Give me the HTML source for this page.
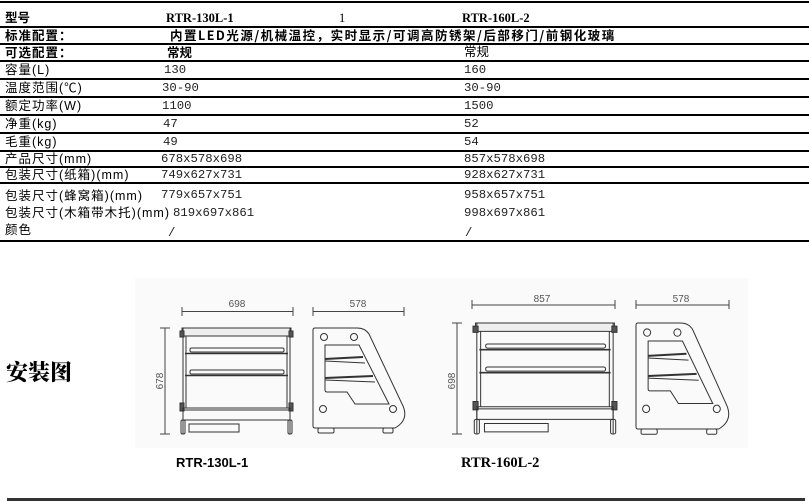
<!DOCTYPE html>
<html><head><meta charset="utf-8"><style>
body{margin:0;width:809px;height:501px;background:#fff;position:relative;overflow:hidden;font-family:"Liberation Sans","Noto Sans CJK SC",sans-serif;color:#000}
.hl{position:absolute;left:0;width:809px;height:1.5px;background:#000}
.t{position:absolute;white-space:nowrap;font-size:12.5px;line-height:14px}
.l{letter-spacing:1px}
.b{font-weight:bold;font-family:"Noto Sans CJK SC",sans-serif}
.m{font-family:"Liberation Mono",monospace;font-size:12.3px;color:#222}
.s{font-family:"Liberation Serif","Noto Serif CJK SC",serif;font-weight:bold;font-size:12.5px}
</style></head><body>
<div class="hl" style="top:1px"></div>
<div class="hl" style="top:26px"></div>
<div class="hl" style="top:43px"></div>
<div class="hl" style="top:60px"></div>
<div class="hl" style="top:78px"></div>
<div class="hl" style="top:96px"></div>
<div class="hl" style="top:114px"></div>
<div class="hl" style="top:132px"></div>
<div class="hl" style="top:150px"></div>
<div class="hl" style="top:166px"></div>
<div class="hl" style="top:182px"></div>
<div class="hl" style="top:240px"></div>

<div class="t b" style="left:5px;top:10px">型号</div>
<div class="t s" style="left:166px;top:11px">RTR-130L-1</div>
<div class="t s" style="left:339px;top:11px;font-weight:normal">1</div>
<div class="t s" style="left:462px;top:11px">RTR-160L-2</div>

<div class="t b l" style="left:5px;top:28px">标准配置：</div>
<div class="t b" style="left:170px;top:28px;letter-spacing:1.5px">内置LED光源/机械温控，实时显示/可调高防锈架/后部移门/前钢化玻璃</div>

<div class="t b l" style="left:5px;top:45px">可选配置：</div>
<div class="t b" style="left:167px;top:45px">常规</div>
<div class="t" style="left:464px;top:45px">常规</div>

<div class="t l" style="left:5px;top:63px">容量(L)</div><div class="t m" style="left:164px;top:63px">130</div><div class="t m" style="left:464px;top:63px">160</div>
<div class="t l" style="left:5px;top:81px">温度范围(℃)</div><div class="t m" style="left:162px;top:81px">30-90</div><div class="t m" style="left:464px;top:81px">30-90</div>
<div class="t l" style="left:5px;top:99px">额定功率(W)</div><div class="t m" style="left:162px;top:99px">1100</div><div class="t m" style="left:464px;top:99px">1500</div>
<div class="t l" style="left:5px;top:117px">净重(kg)</div><div class="t m" style="left:163px;top:117px">47</div><div class="t m" style="left:464px;top:117px">52</div>
<div class="t l" style="left:5px;top:135px">毛重(kg)</div><div class="t m" style="left:163px;top:135px">49</div><div class="t m" style="left:464px;top:135px">54</div>
<div class="t l" style="left:5px;top:152px">产品尺寸(mm)</div><div class="t m" style="left:161px;top:152px">678x578x698</div><div class="t m" style="left:464px;top:152px">857x578x698</div>
<div class="t l" style="left:5px;top:168px">包装尺寸(纸箱)(mm)</div><div class="t m" style="left:161px;top:168px">749x627x731</div><div class="t m" style="left:464px;top:168px">928x627x731</div>
<div class="t l" style="left:5px;top:189px">包装尺寸(蜂窝箱)(mm)</div><div class="t m" style="left:161px;top:188px">779x657x751</div><div class="t m" style="left:464px;top:188px">958x657x751</div>
<div class="t l" style="left:5px;top:206px">包装尺寸(木箱带木托)(mm)</div><div class="t m" style="left:173px;top:206px">819x697x861</div><div class="t m" style="left:464px;top:206px">998x697x861</div>
<div class="t l" style="left:5px;top:223px">颜色</div><div class="t m" style="left:168px;top:226px">/</div><div class="t m" style="left:465px;top:226px">/</div>

<div class="t b" style="left:6px;top:358px;font-size:22px;line-height:28px;font-family:'Noto Serif CJK SC',serif;font-weight:900">安装图</div>

<svg style="position:absolute;left:0;top:0" width="809" height="501" xmlns="http://www.w3.org/2000/svg">
<defs>
<g id="front" fill="none" stroke="#333">
<rect x="2" y="0" width="109" height="8" fill="#eee" vector-effect="non-scaling-stroke"/>
<line x1="3" y1="0" x2="3" y2="106" vector-effect="non-scaling-stroke"/>
<line x1="110" y1="0" x2="110" y2="106" vector-effect="non-scaling-stroke"/>
<line x1="6" y1="8" x2="6" y2="80" vector-effect="non-scaling-stroke"/>
<line x1="107" y1="8" x2="107" y2="80" vector-effect="non-scaling-stroke"/>
<rect x="0" y="3" width="4" height="6" fill="#555" vector-effect="non-scaling-stroke"/>
<rect x="109" y="3" width="4" height="6" fill="#555" vector-effect="non-scaling-stroke"/>
<rect x="0" y="75" width="4" height="8" fill="#555" vector-effect="non-scaling-stroke"/>
<rect x="109" y="75" width="4" height="8" fill="#555" vector-effect="non-scaling-stroke"/>
<rect x="10" y="20" width="94" height="4" rx="1.5" vector-effect="non-scaling-stroke"/>
<line x1="5" y1="25.5" x2="108" y2="25.5" stroke-width="1.6" vector-effect="non-scaling-stroke"/>
<rect x="10" y="42" width="94" height="4" rx="1.5" vector-effect="non-scaling-stroke"/>
<line x1="5" y1="47.5" x2="108" y2="47.5" stroke-width="1.6" vector-effect="non-scaling-stroke"/>
<rect x="3" y="80" width="107" height="12" vector-effect="non-scaling-stroke"/>
<line x1="3" y1="82" x2="110" y2="82" vector-effect="non-scaling-stroke"/>
<rect x="9" y="96" width="50" height="8" vector-effect="non-scaling-stroke"/>
<rect x="1" y="92" width="4" height="14" rx="1.5" vector-effect="non-scaling-stroke"/>
<rect x="108" y="92" width="4" height="14" rx="1.5" vector-effect="non-scaling-stroke"/>
</g>
<g id="side" fill="none" stroke="#333">
<path d="M0,2 Q0,0 2,0 L44,0 Q52,0 56,6 L90,78 Q96,92 82,100 L2,100 Q0,100 0,98 Z" vector-effect="non-scaling-stroke"/>
<circle cx="11" cy="9" r="3.5" vector-effect="non-scaling-stroke"/>
<circle cx="41" cy="9" r="3.5" vector-effect="non-scaling-stroke"/>
<circle cx="10" cy="81" r="3.5" vector-effect="non-scaling-stroke"/>
<circle cx="80" cy="81" r="3.5" vector-effect="non-scaling-stroke"/>
<path d="M12,17 L46,17 L76,76 L42,76 L34,64 L14,64 Q12,64 12,62 Z" vector-effect="non-scaling-stroke"/>
<line x1="12" y1="31" x2="50" y2="29" stroke-width="2" vector-effect="non-scaling-stroke"/>
<line x1="12" y1="33" x2="52" y2="35" vector-effect="non-scaling-stroke"/>
<line x1="12" y1="50" x2="60" y2="48" stroke-width="2" vector-effect="non-scaling-stroke"/>
<line x1="12" y1="52" x2="62" y2="54" vector-effect="non-scaling-stroke"/>
<rect x="5" y="100" width="16" height="5" rx="1.5" vector-effect="non-scaling-stroke"/>
<rect x="70" y="100" width="10" height="5" rx="1.5" vector-effect="non-scaling-stroke"/>
</g>
</defs>
<rect x="135" y="278" width="613" height="170" fill="#fafafa"/>
<g stroke="#444" fill="none" stroke-width="1">
<path d="M182,307V316M182,311.5H293M293,307V316"/>
<path d="M313,307V316M313,311.5H404M404,307V316"/>
<path d="M160,328H170M165,328V434M160,434H170"/>
<path d="M472,300V309M472,305H615M615,300V309"/>
<path d="M636,300V309M636,305H729M729,300V309"/>
<path d="M452,323H462M457,323V434M452,434H462"/>
</g>
<g font-family="Liberation Sans,sans-serif" font-size="10" fill="#555" text-anchor="middle">
<text x="237" y="307">698</text>
<text x="358" y="307">578</text>
<text x="542" y="302">857</text>
<text x="681" y="302">578</text>
<text transform="translate(163,381) rotate(-90)">678</text>
<text transform="translate(455,381) rotate(-90)">698</text>
</g>
<use href="#front" transform="translate(180,328)"/>
<use href="#side" transform="translate(313,328)"/>
<use href="#front" transform="translate(473,323) scale(1.274,1.047)"/>
<use href="#side" transform="translate(636,323) scale(1.01,1.06)"/>
<text x="176" y="467" font-family="Liberation Sans,sans-serif" font-weight="bold" font-size="13">RTR-130L-1</text>
<text x="461" y="467" font-family="Liberation Serif,serif" font-weight="bold" font-size="14.5">RTR-160L-2</text>
<rect x="7" y="498" width="798" height="3" fill="#333"/>
</svg>
</body></html>
